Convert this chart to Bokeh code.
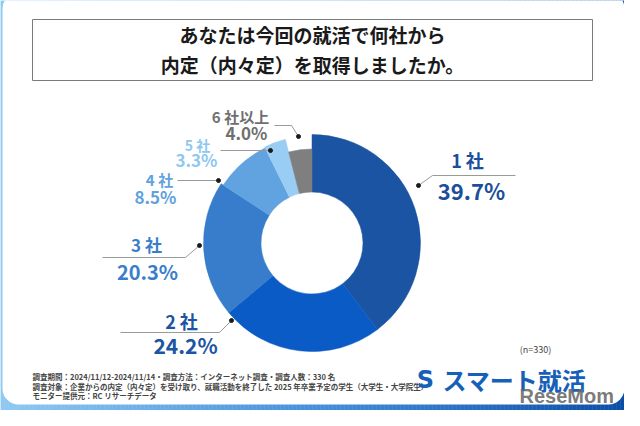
import math
from bokeh.plotting import figure
from bokeh.models import Range1d, ColumnDataSource
from bokeh.core.properties import value
from bokeh.embed import file_html
from bokeh.resources import INLINE

# ---------------- data ----------------
categories = ["1 社", "2 社", "3 社", "4 社", "5 社", "6 社以上"]
shares = [39.7, 24.2, 20.3, 8.5, 3.3, 4.0]
title_lines = ["あなたは今回の就活で何社から", "内定（内々定）を取得しましたか。"]
notes = [
    "調査期間：2024/11/12-2024/11/14・調査方法：インターネット調査・調査人数：330 名",
    "調査対象：企業からの内定（内々定）を受け取り、就職活動を終了した 2025 年卒業予定の学生（大学生・大学院生）",
    "モニター提供元：RC リサーチデータ",
]
sample_note = "(n=330)"
brand = "スマート就活"

# ---------------- styles ----------------
FONT = value("Noto Sans CJK JP")
W, H = 624, 410
seg_colors = ["#1b54a3", "#0a5bc5", "#377dcb", "#61a3e0", "#9acdf4", "#7f7f7f"]
label_colors = ["#1b4f9c", "#1b55a3", "#3a7ecb", "#5fa2de", "#8ec8f1", "#6f6f6f"]
outer_r = [108.5, 108.5, 108.5, 106, 107, 94]
inner_r = 51
cx, cy = 311.5, 167.5

# label layout: (cat x, cat y, cat size, pct x, pct y, pct size)
label_pos = [
    (467, 251, "18px", 471, 221, "22px"),
    (181, 90, "18px", 185, 66, "21px"),
    (146, 166, "17px", 147, 139, "20px"),
    (159, 231, "15px", 155, 214, "17px"),
    (197, 266, "14px", 196, 251, "17px"),
    (240, 294, "15px", 246, 278, "17px"),
]
leaders = [
    ([515, 432, 418], [235, 235, 225]),
    ([120, 219, 231], [78, 78, 90]),
    ([102, 185, 199], [153, 153, 165]),
    ([177, 218], [230, 230]),
    ([220, 270], [260, 260]),
    ([274, 291, 298], [285, 285, 274]),
]

p = figure(width=W, height=H, x_range=Range1d(0, W), y_range=Range1d(0, H),
           output_backend="svg", toolbar_location=None, min_border=0,
           x_axis_location=None, y_axis_location=None)
p.grid.visible = False
p.outline_line_color = None
p.background_fill_color = "white"
p.border_fill_color = "white"

# gradient frame (decoration)
def lerp(c1, c2, t):
    a = [int(c1[i:i + 2], 16) for i in (1, 3, 5)]
    b = [int(c2[i:i + 2], 16) for i in (1, 3, 5)]
    return "#%02x%02x%02x" % tuple(round(a[k] + (b[k] - a[k]) * t) for k in range(3))

stops = [(0, "#8fc9f2"), (312, "#4690dc"), (624, "#0b4ea8")]
gl, gr, gc = [], [], []
step = 4
for x0 in range(0, W, step):
    xm = x0 + step / 2
    if xm <= 312:
        c = lerp(stops[0][1], stops[1][1], xm / 312)
    else:
        c = lerp(stops[1][1], stops[2][1], (xm - 312) / 312)
    gl.append(x0); gr.append(x0 + step); gc.append(c)
p.quad(left=gl, right=gr, bottom=0, top=H, fill_color=gc, line_color=gc, line_width=0.5)

# white panel
p.quad(left=[2], right=[624], bottom=[6], top=[418], fill_color="white",
       line_color=None, border_radius=16)

# title box
p.quad(left=[32], right=[592], bottom=[330], top=[391], fill_color="white",
       line_color="#7a7a7a", line_width=1)
p.text(x=[312, 312], y=[376, 346], text=title_lines, text_font=FONT,
       text_font_size="19px", text_font_style="bold", text_color="#1a1a1a",
       text_align="center", text_baseline="middle")

# donut
total = sum(shares)
cum = 0.0
starts, ends = [], []
for s in shares:
    starts.append(math.pi / 2 - 2 * math.pi * cum / total)
    cum += s
    ends.append(math.pi / 2 - 2 * math.pi * cum / total)
src = ColumnDataSource(dict(x=[cx] * len(shares), y=[cy] * len(shares),
                            start=starts, end=ends, outer=outer_r,
                            color=seg_colors))
p.annular_wedge(x="x", y="y", inner_radius=inner_r, outer_radius="outer",
                start_angle="start", end_angle="end", direction="clock",
                fill_color="color", line_color="color", line_width=0.5, source=src)

# leaders
p.multi_line(xs=[l[0] for l in leaders], ys=[l[1] for l in leaders],
             line_color="#9a9a9a", line_width=1)
p.scatter(x=[l[0][-1] for l in leaders], y=[l[1][-1] for l in leaders],
          size=4, color="#1a1a1a")

# labels
for cat, sh, col, pos in zip(categories, shares, label_colors, label_pos):
    p.text(x=[pos[0]], y=[pos[1]], text=[cat], text_font=FONT,
           text_font_size=pos[2], text_font_style="bold", text_color=col,
           text_align="center", text_baseline="middle")
    p.text(x=[pos[3]], y=[pos[4]], text=[f"{sh:.1f}%"], text_font=FONT,
           text_font_size=pos[5], text_font_style="bold", text_color=col,
           text_align="center", text_baseline="middle")

# notes
p.text(x=[32, 32, 32], y=[34, 24.5, 15], text=notes, text_font=FONT,
       text_font_size="7.5px", text_font_style="bold", text_color="#454545",
       text_align="left", text_baseline="middle")
p.text(x=[535], y=[61], text=[sample_note], text_font=FONT,
       text_font_size="9px", text_color="#444444",
       text_align="center", text_baseline="middle")

# brand logo
p.text(x=[425], y=[31], text=["S"], text_font=value("DejaVu Sans"),
       text_font_size="24px", text_font_style="bold", text_color="#1660b8",
       text_align="center", text_baseline="middle")
p.text(x=[442], y=[31], text=[brand], text_font=FONT,
       text_font_size="24px", text_font_style="bold", text_color="#1660b8",
       text_align="left", text_baseline="middle")
p.text(x=[519], y=[15], text=["ReseMom"], text_font=value("Liberation Sans"),
       text_font_size="20px", text_font_style="bold", text_color="#6a6a6a",
       text_alpha=0.9, text_align="left", text_baseline="middle")

open("out.html", "w").write(file_html(p, INLINE))
